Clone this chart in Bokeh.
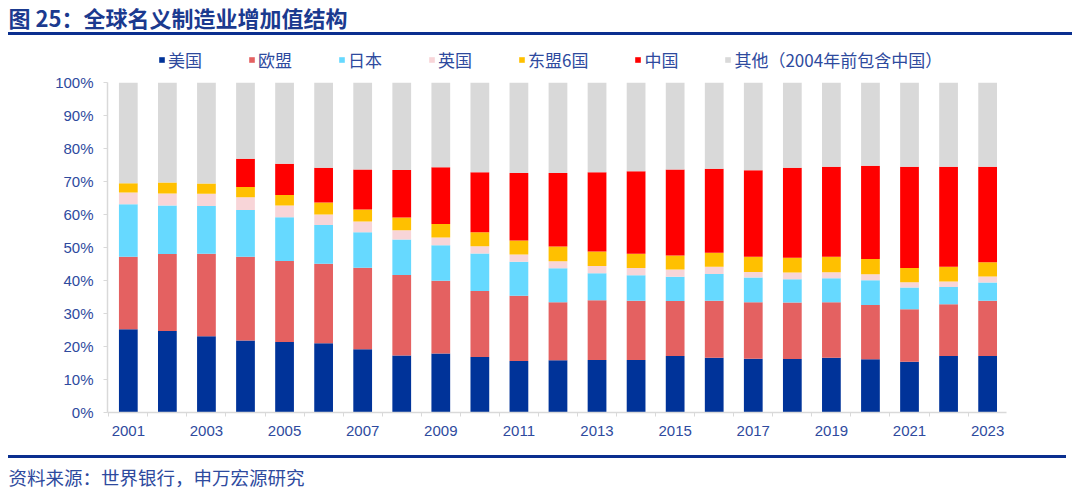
from bokeh.plotting import figure
from bokeh.layouts import column
from bokeh.models import (ColumnDataSource, Range1d, FixedTicker, Legend, LegendItem,
                          Title, NumeralTickFormatter, Div)
from bokeh.embed import file_html
from bokeh.resources import INLINE

years = list(range(2001, 2024))
us = [25.2, 24.7, 23.1, 21.8, 21.4, 21.0, 19.2, 17.3, 17.9, 16.8, 15.6, 15.8,
      15.9, 15.9, 17.1, 16.6, 16.3, 16.2, 16.6, 16.1, 15.4, 17.1, 17.1]
eu = [22.0, 23.3, 25.0, 25.4, 24.5, 24.1, 24.7, 24.4, 22.0, 20.0, 19.8, 17.6,
      18.1, 18.0, 16.7, 17.3, 17.1, 17.1, 16.8, 16.5, 15.9, 15.7, 16.8]
jp = [15.9, 14.7, 14.5, 14.2, 13.3, 11.7, 10.7, 10.7, 10.8, 11.4, 10.3, 10.3,
      8.2, 7.7, 7.3, 8.1, 7.5, 7.1, 7.3, 7.5, 6.6, 5.2, 5.5]
uk = [3.6, 3.7, 3.7, 3.8, 3.5, 3.2, 3.3, 2.8, 2.3, 2.2, 2.2, 2.1,
      2.2, 2.2, 2.2, 2.2, 1.7, 2.0, 1.8, 1.8, 1.6, 1.7, 1.8]
asean6 = [2.8, 3.3, 3.1, 3.1, 3.2, 3.6, 3.6, 3.9, 4.1, 4.2, 4.2, 4.5,
          4.4, 4.3, 4.3, 4.2, 4.6, 4.5, 4.7, 4.6, 4.3, 4.5, 4.3]
china = [0.0, 0.0, 0.0, 8.6, 9.5, 10.6, 12.1, 14.4, 17.2, 18.2, 20.5, 22.3,
         24.0, 25.0, 26.0, 25.5, 26.2, 27.3, 27.3, 28.3, 30.7, 30.3, 29.0]
other = [30.5, 30.3, 30.6, 23.1, 24.6, 25.8, 26.4, 26.5, 25.7, 27.2, 27.4, 27.4,
         27.2, 26.9, 26.4, 26.1, 26.6, 25.8, 25.5, 25.2, 25.5, 25.5, 25.5]

series_keys = ["us", "eu", "jp", "uk", "asean6", "china", "other"]
series_names = ["美国", "欧盟", "日本", "英国", "东盟6国", "中国", "其他（2004年前包含中国）"]
series_colors = ["#003399", "#E46161", "#66D9FF", "#F8D5D8", "#FFC000", "#FF0000", "#D9D9D9"]
x_tick_years = list(range(2001, 2024, 2))
y_ticks = [i / 10 for i in range(11)]

title_text = "图 25：全球名义制造业增加值结构"
source_text = "资料来源：世界银行，申万宏源研究"

CJK = "Noto Sans CJK SC"
LAT = "Liberation Sans"
TXT = "#2E4A9E"
NAVY = "#0A2F8F"
W = 1080
LEFT, FRAME_W, RIGHT = 107, 899, 74


def strip(height, frame_h, top, bottom):
    f = figure(width=W, height=height, frame_width=FRAME_W, frame_height=frame_h,
               min_border_left=LEFT, min_border_right=RIGHT,
               min_border_top=top, min_border_bottom=bottom,
               output_backend="svg", toolbar_location=None,
               x_range=Range1d(0, 1), y_range=Range1d(0, 1),
               x_axis_location=None, y_axis_location=None)
    f.outline_line_color = None
    f.grid.visible = False
    f.border_fill_color = "white"
    f.background_fill_color = "white"
    return f


def rule(width, left_margin):
    return Div(text="", width=width, height=3, margin=(0, 0, 0, left_margin),
               styles={"background-color": NAVY, "padding": "0px"})


# ---------- title (page y 0-32) ----------
head = strip(32, 1, 31, 0)
head.title = Title(text=title_text, align="left", offset=-(LEFT - 8), standoff=-3,
                   text_font=CJK, text_font_size="22px", text_font_style="bold",
                   text_color="#1B3A8F")

rule_top = rule(1064, 8)          # page y 32-35

# ---------- legend (page y 35-72) ----------
leg = strip(37, 37, 0, 0)
dummy = ColumnDataSource(dict(x=[-100.0], top=[-100.0]))
legend_items = []
for name, col in zip(series_names, series_colors):
    r = leg.vbar(x="x", top="top", width=1, source=dummy, fill_color=col, line_color=None)
    legend_items.append(LegendItem(label=name, renderers=[r]))
legend = Legend(items=legend_items, orientation="horizontal", location=(51, 0),
                glyph_width=7, glyph_height=7, label_standoff=3, spacing=46,
                label_height=18, label_text_font=CJK, label_text_font_size="17px",
                label_text_color=TXT, label_text_baseline="middle", padding=0, margin=0,
                border_line_color=None, background_fill_alpha=0)
leg.add_layout(legend, "center")

# ---------- main chart (page y 72-455) ----------
data = dict(year=years)
for k, vals in zip(series_keys, [us, eu, jp, uk, asean6, china, other]):
    data[k] = [v / 100 for v in vals]
src = ColumnDataSource(data)

p = figure(width=W, height=383, frame_width=FRAME_W, frame_height=330,
           min_border_left=LEFT, min_border_right=RIGHT, min_border_top=10, min_border_bottom=43,
           output_backend="svg", toolbar_location=None,
           x_range=Range1d(2000.467, 2023.483), y_range=Range1d(0, 1))
p.outline_line_color = None
p.grid.visible = False
p.background_fill_color = "white"
p.border_fill_color = "white"

p.vbar_stack(series_keys, x="year", width=0.48, source=src,
             color=series_colors, line_color=None)

xa = p.xaxis[0]
xa.ticker = FixedTicker(ticks=x_tick_years, minor_ticks=[y - 0.5 for y in years])
xa.major_tick_line_color = None
xa.major_tick_out = 0
xa.major_tick_in = 0
xa.minor_tick_line_color = "#D9D9D9"
xa.minor_tick_out = 4
xa.minor_tick_in = 0
xa.axis_line_color = "#D9D9D9"
xa.axis_line_width = 1.5
xa.major_label_text_font = LAT
xa.major_label_text_font_size = "15px"
xa.major_label_text_color = TXT
xa.major_label_standoff = 9

ya = p.yaxis[0]
ya.ticker = FixedTicker(ticks=y_ticks, minor_ticks=[])
ya.formatter = NumeralTickFormatter(format="0%")
ya.major_tick_out = 4
ya.major_tick_in = 0
ya.major_tick_line_color = "#D9D9D9"
ya.axis_line_color = "#D9D9D9"
ya.axis_line_width = 1.5
ya.minor_tick_line_color = None
ya.major_label_text_font = LAT
ya.major_label_text_font_size = "15px"
ya.major_label_text_color = TXT
ya.major_label_standoff = 10

rule_bottom = rule(1058, 8)       # page y 455-458

# ---------- source (page y 458-494) ----------
foot = strip(36, 1, 0, 35)
foot.add_layout(Title(text=source_text, align="left", offset=-(LEFT - 8), standoff=5,
                      text_font=CJK, text_font_size="18.5px", text_font_style="normal",
                      text_color=TXT), "below")

layout = column(head, rule_top, leg, p, rule_bottom, foot, spacing=0)
open("out.html", "w").write(file_html(layout, INLINE))
